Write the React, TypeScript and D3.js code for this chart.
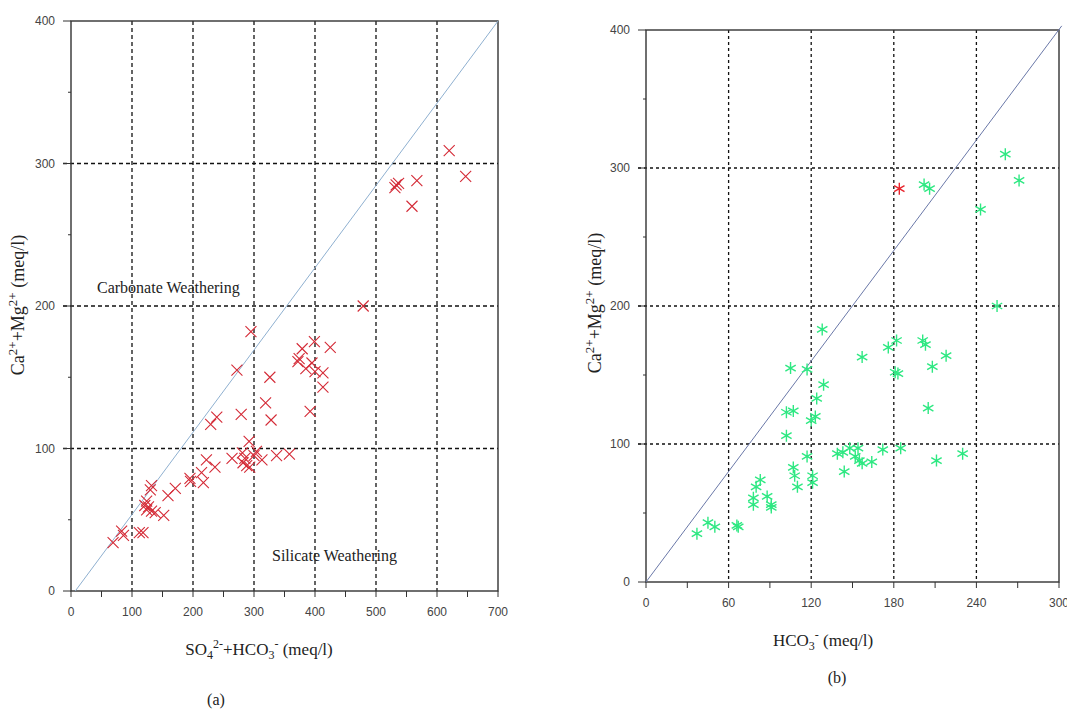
import React from "react";
import * as d3 from "d3";

// panel (a): SO4 + HCO3 vs Ca + Mg
const seriesA: [number, number][] = [
  [620, 309], [647, 291], [533, 285], [537, 286], [531, 283], [567, 288], [559, 270],
  [479, 200], [295, 182], [379, 170], [399, 175], [425, 171], [374, 163],
  [272, 155], [326, 150], [372, 161], [385, 156], [395, 160], [400, 154], [413, 153],
  [413, 143], [392, 126], [319, 132], [279, 124], [328, 120], [229, 117], [239, 122],
  [292, 105], [304, 98], [281, 97], [264, 93], [285, 93], [282, 90], [288, 88],
  [293, 87], [313, 92], [337, 95], [358, 96], [300, 95], [236, 87], [222, 92],
  [214, 83], [217, 76], [195, 79], [196, 77], [171, 72], [159, 67], [132, 74],
  [130, 71], [124, 63], [121, 60], [127, 59], [132, 56], [138, 55], [152, 53],
  [124, 57], [83, 42], [86, 39], [69, 34], [112, 41], [118, 41],
];

// panel (b): HCO3 vs Ca + Mg
const seriesB: [number, number][] = [
  [261, 310], [271, 291], [202, 288], [206, 285], [243, 270], [255, 200], [128, 183],
  [182, 175], [176, 170], [201, 175], [203, 172], [218, 164], [157, 163], [181, 152],
  [183, 151], [208, 156], [205, 126], [172, 96], [185, 97], [211, 88], [230, 93],
  [105, 155], [117, 154], [129, 143], [124, 133], [123, 120], [120, 117], [102, 123],
  [107, 124], [102, 106], [117, 91], [139, 93], [143, 94], [148, 97], [154, 97],
  [152, 91], [155, 88], [157, 86], [164, 87], [144, 80], [107, 83], [108, 77],
  [121, 77], [110, 69], [121, 72], [83, 74], [80, 69], [78, 61], [78, 56], [88, 62],
  [91, 56], [91, 54], [66, 41], [67, 40], [45, 43], [50, 40], [37, 35],
];
const seriesBRed: [number, number][] = [[184, 285]];

const lineA: [number, number][] = [[7, 0], [700, 400]];
const lineB: [number, number][] = [[0, 0], [302, 403]];

const ticksA = [0, 100, 200, 300, 400, 500, 600, 700];
const ticksB = [0, 60, 120, 180, 240, 300];
const ticksY = [0, 100, 200, 300, 400];

const serif = "'Liberation Serif', 'Times New Roman', serif";
const sans = "'Liberation Sans', Arial, sans-serif";

type PanelProps = {
  left: number; right: number; top: number; bottom: number;
  xMax: number; xTicks: number[]; xMinor: number;
  diag: [number, number][]; diagColor: string;
  dash: string; tickLabelY: number; children: (x: any, y: any) => React.ReactNode;
};

const Panel = (p: PanelProps) => {
  const x = d3.scaleLinear().domain([0, p.xMax]).range([p.left, p.right]);
  const y = d3.scaleLinear().domain([0, 400]).range([p.bottom, p.top]);
  const minorX = d3.range(0, p.xMax + 0.1, p.xMinor);
  const minorY = d3.range(0, 401, 50);
  const line = d3.line<[number, number]>().x(d => x(d[0])).y(d => y(d[1]));
  const axisColor = "#333";
  return (
    <g>
      {p.xTicks.slice(1, -1).map(t => (
        <line key={"gx" + t} x1={x(t)} x2={x(t)} y1={p.top} y2={p.bottom}
          stroke="#111" strokeWidth={1.3} strokeDasharray={p.dash} />
      ))}
      {ticksY.slice(1, -1).map(t => (
        <line key={"gy" + t} x1={p.left - 8} x2={p.right} y1={y(t)} y2={y(t)}
          stroke="#111" strokeWidth={1.3} strokeDasharray={p.dash} />
      ))}
      <rect x={p.left} y={p.top} width={p.right - p.left} height={p.bottom - p.top}
        fill="none" stroke={axisColor} strokeWidth={1.4} />
      {minorX.map(t => (
        <line key={"mx" + t} x1={x(t)} x2={x(t)} y1={p.bottom} y2={p.bottom + 6}
          stroke={axisColor} strokeWidth={1} />
      ))}
      {minorY.map(t => (
        <line key={"my" + t} x1={p.left} x2={p.left - (t % 100 === 0 ? 8 : 3)} y1={y(t)} y2={y(t)}
          stroke={axisColor} strokeWidth={1} />
      ))}
      {p.xTicks.map(t => (
        <text key={"lx" + t} x={x(t)} y={p.tickLabelY} textAnchor="middle"
          fontFamily={sans} fontSize={12} fill="#444">{t}</text>
      ))}
      {ticksY.map(t => (
        <text key={"ly" + t} x={p.left - 16} y={y(t) + 4} textAnchor="end"
          fontFamily={sans} fontSize={12} fill="#444">{t}</text>
      ))}
      <path d={line(p.diag) || ""} fill="none" stroke={p.diagColor} strokeWidth={1} />
      {p.children(x, y)}
    </g>
  );
};

const Cross = ({ cx, cy, color }: { cx: number; cy: number; color: string }) => (
  <path d={`M${cx - 5.5},${cy - 5.5}L${cx + 5.5},${cy + 5.5}M${cx - 5.5},${cy + 5.5}L${cx + 5.5},${cy - 5.5}`}
    stroke={color} strokeWidth={1.1} fill="none" />
);

const Star = ({ cx, cy, color }: { cx: number; cy: number; color: string }) => {
  const r = 6;
  const a = r * Math.cos(Math.PI / 6);
  const b = r * Math.sin(Math.PI / 6);
  return (
    <path d={`M${cx},${cy - r}L${cx},${cy + r}M${cx - a},${cy - b}L${cx + a},${cy + b}M${cx - a},${cy + b}L${cx + a},${cy - b}`}
      stroke={color} strokeWidth={1.4} fill="none" />
  );
};

const YLabel = ({ x, y }: { x: number; y: number }) => (
  <text transform={`translate(${x},${y}) rotate(-90)`} textAnchor="middle"
    fontFamily={serif} fontSize={18} fill="#222">
    Ca<tspan fontSize={13} dy={-7}>2+</tspan><tspan dy={7}>+Mg</tspan>
    <tspan fontSize={13} dy={-7}>2+</tspan><tspan dy={7}> (meq/l)</tspan>
  </text>
);

export default function App() {
  return (
    <svg width={1067} height={709} style={{ position: "absolute", left: 0, top: 0, background: "#fff" }}>
      <Panel left={71} right={498} top={21} bottom={591} xMax={700} xTicks={ticksA} xMinor={50}
        diag={lineA} diagColor="#8fb0d0" dash="4,3" tickLabelY={616}>
        {(x, y) => seriesA.map((d, i) => <Cross key={i} cx={x(d[0])} cy={y(d[1])} color="#d42a36" />)}
      </Panel>
      <Panel left={646} right={1059} top={30} bottom={582} xMax={300} xTicks={ticksB} xMinor={30}
        diag={lineB} diagColor="#6a78a8" dash="3,3" tickLabelY={607}>
        {(x, y) => (
          <g>
            {seriesB.map((d, i) => <Star key={i} cx={x(d[0])} cy={y(d[1])} color="#2ee882" />)}
            {seriesBRed.map((d, i) => <Star key={"r" + i} cx={x(d[0])} cy={y(d[1])} color="#e8242c" />)}
          </g>
        )}
      </Panel>

      <text x={97} y={293} fontFamily={serif} fontSize={16} fill="#222">Carbonate Weathering</text>
      <text x={272} y={561} fontFamily={serif} fontSize={16} fill="#222">Silicate Weathering</text>

      <YLabel x={24} y={305} />
      <YLabel x={601} y={303} />

      <text x={259} y={655} textAnchor="middle" fontFamily={serif} fontSize={17} fill="#222">
        SO<tspan fontSize={12} dy={4}>4</tspan><tspan fontSize={12} dy={-11}>2-</tspan>
        <tspan dy={7}>+HCO</tspan><tspan fontSize={12} dy={4}>3</tspan>
        <tspan fontSize={12} dy={-11}>-</tspan><tspan dy={7}> (meq/l)</tspan>
      </text>
      <text x={216} y={705} textAnchor="middle" fontFamily={serif} fontSize={16} fill="#222">(a)</text>

      <text x={823} y={646} textAnchor="middle" fontFamily={serif} fontSize={17} fill="#222">
        HCO<tspan fontSize={12} dy={4}>3</tspan><tspan fontSize={12} dy={-11}>-</tspan>
        <tspan dy={7}> (meq/l)</tspan>
      </text>
      <text x={837} y={683} textAnchor="middle" fontFamily={serif} fontSize={16} fill="#222">(b)</text>
    </svg>
  );
}
